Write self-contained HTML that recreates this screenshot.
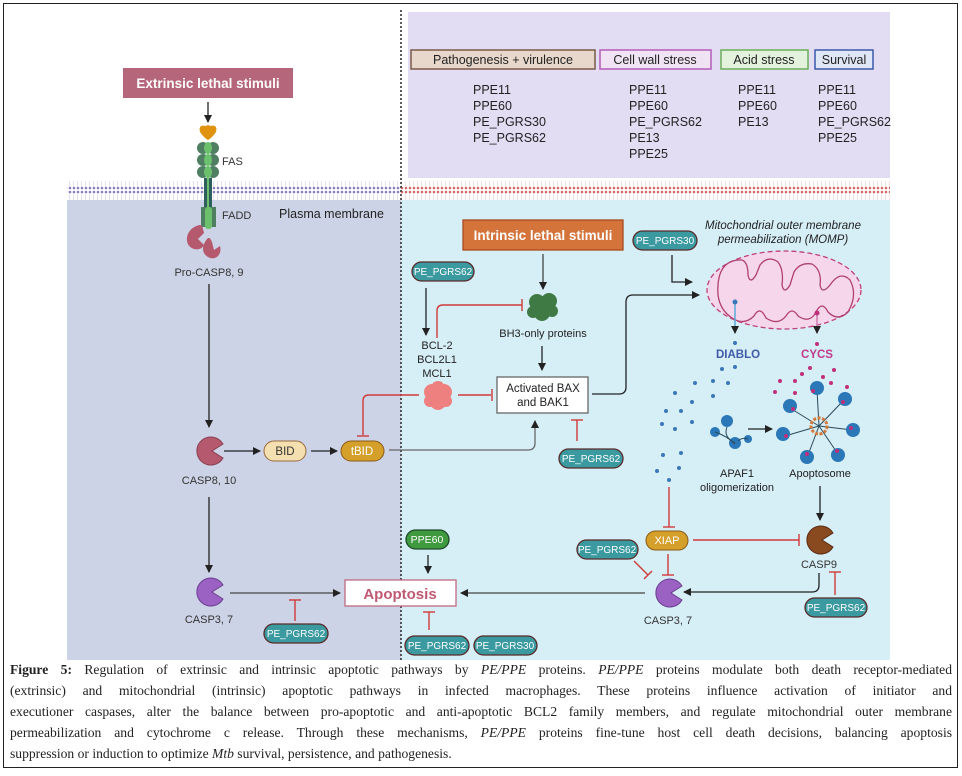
<!DOCTYPE html>
<html><head><meta charset="utf-8"><style>
body{margin:0;background:#fff;width:962px;height:776px;overflow:hidden;position:relative;font-family:"Liberation Sans",sans-serif}
.frame{position:absolute;left:3px;top:3px;width:953px;height:763px;border:1.5px solid #222}
.cap{position:absolute;left:10px;top:659px;width:942px;font-family:"Liberation Serif",serif;font-size:13.6px;color:#222;line-height:21px}
.cap div{text-align:justify;text-align-last:justify;white-space:nowrap}
.cap div.last{text-align-last:left}
</style></head><body>
<div class="frame"></div>
<svg width="962" height="660" style="position:absolute;left:0;top:0" font-family="Liberation Sans, sans-serif">
<defs>
<marker id="ah" markerWidth="8" markerHeight="8" refX="7" refY="4" orient="auto" markerUnits="userSpaceOnUse"><path d="M0,0 L8,4 L0,8 Z" fill="#222"/></marker>
<pattern id="memL" width="4" height="19" patternUnits="userSpaceOnUse"><rect width="4" height="19" fill="#fff"/><circle cx="2" cy="2" r="1.3" fill="#8a7ec0"/><circle cx="2" cy="17" r="1.3" fill="#8a7ec0"/><line x1="1.5" y1="3" x2="1.5" y2="16" stroke="#d8d4ea" stroke-width="0.7"/></pattern>
<pattern id="memR" width="4" height="19" patternUnits="userSpaceOnUse"><rect width="4" height="19" fill="#fff"/><circle cx="2" cy="2" r="1.3" fill="#d46a6a"/><circle cx="2" cy="17" r="1.3" fill="#d46a6a"/><line x1="1.5" y1="3" x2="1.5" y2="16" stroke="#f0d4d4" stroke-width="0.7"/></pattern>
</defs>
<rect x="408" y="12" width="482" height="166" fill="#e2ddf3"/>
<rect x="67" y="200" width="334" height="460" fill="#cdd3e6"/>
<rect x="401" y="200" width="489" height="460" fill="#d6eef6"/>
<rect x="67" y="181" width="334" height="19" fill="url(#memL)"/>
<rect x="401" y="181" width="489" height="19" fill="url(#memR)"/>
<line x1="401" y1="10" x2="401" y2="660" stroke="#333" stroke-width="1.6" stroke-dasharray="2,2"/>

<g font-size="12.5" fill="#222">
<rect x="411" y="50" width="184" height="19" fill="#e8d8cb" stroke="#7a5a48" stroke-width="1.5"/><text x="503" y="64" text-anchor="middle">Pathogenesis + virulence</text>
<rect x="600" y="50" width="111" height="19" fill="#f0e4f4" stroke="#b45cb8" stroke-width="1.5"/><text x="655" y="64" text-anchor="middle">Cell wall stress</text>
<rect x="721" y="50" width="87" height="19" fill="#e2f2dc" stroke="#6aae5a" stroke-width="1.5"/><text x="764" y="64" text-anchor="middle">Acid stress</text>
<rect x="815" y="50" width="58" height="19" fill="#dfe6f6" stroke="#3a5aa8" stroke-width="1.5"/><text x="844" y="64" text-anchor="middle">Survival</text>
<text x="473" y="94">PPE11</text><text x="473" y="110">PPE60</text><text x="473" y="126">PE_PGRS30</text><text x="473" y="142">PE_PGRS62</text>
<text x="629" y="94">PPE11</text><text x="629" y="110">PPE60</text><text x="629" y="126">PE_PGRS62</text><text x="629" y="142">PE13</text><text x="629" y="158">PPE25</text>
<text x="738" y="94">PPE11</text><text x="738" y="110">PPE60</text><text x="738" y="126">PE13</text>
<text x="818" y="94">PPE11</text><text x="818" y="110">PPE60</text><text x="818" y="126">PE_PGRS62</text><text x="818" y="142">PPE25</text>
</g>

<rect x="123" y="68" width="170" height="30" fill="#b5667a"/>
<text x="208" y="88" text-anchor="middle" fill="#fff" font-weight="bold" font-size="13.5">Extrinsic lethal stimuli</text>
<line x1="208" y1="102" x2="208" y2="122" stroke="#222" stroke-width="1.3" marker-end="url(#ah)"/>
<path d="M200,132 q-2,-8 6,-6 q2,-2 4,0 q8,-2 6,6 q-4,6 -8,8 q-4,-2 -8,-8Z" fill="#e0930f"/>
<g fill="#4f7f63"><circle cx="203" cy="148" r="6"/><circle cx="213" cy="148" r="6"/><circle cx="203" cy="160" r="6"/><circle cx="213" cy="160" r="6"/><circle cx="203" cy="172" r="6"/><circle cx="213" cy="172" r="6"/></g>
<g fill="#6cc06c"><ellipse cx="208" cy="148" rx="4" ry="6"/><ellipse cx="208" cy="160" rx="4" ry="6"/><ellipse cx="208" cy="172" rx="4" ry="6"/></g>
<rect x="204" y="178" width="8" height="30" fill="#2e5f5e"/><line x1="208" y1="178" x2="208" y2="208" stroke="#6cc06c" stroke-width="2"/>
<rect x="201" y="207" width="15" height="20" fill="#4f7f63"/><rect x="205" y="207" width="7" height="22" rx="3" fill="#6cc06c"/>
<text x="222" y="165" font-size="11" fill="#333">FAS</text>
<text x="222" y="219" font-size="11" fill="#333">FADD</text>
<text x="279" y="218" font-size="12.5" fill="#222">Plasma membrane</text>
<path d="M200,225 c-14,2 -18,20 -6,24 c4,1 8,0 10,-4 l-6,-6 l6,-6 c-1,-5 -2,-8 -4,-8Z" fill="#b5596e"/>
<path d="M208,238 c-6,6 -8,16 2,20 c8,2 12,-6 10,-12 l-6,4 l-2,-8 c-2,-4 -2,-4 -4,-4Z" fill="#b5596e"/>
<text x="209" y="276" text-anchor="middle" font-size="11" fill="#333">Pro-CASP8, 9</text>
<line x1="209" y1="284" x2="209" y2="427" stroke="#222" stroke-width="1.3" marker-end="url(#ah)"/>

<path d="M223,444 A14,14 0 1 0 223,458 L212,451 Z" fill="#b5596e" stroke="#8a3d50" stroke-width="1"/>
<text x="209" y="484" text-anchor="middle" font-size="11" fill="#333">CASP8, 10</text>
<line x1="209" y1="497" x2="209" y2="572" stroke="#222" stroke-width="1.3" marker-end="url(#ah)"/>
<path d="M223,585 A14,14 0 1 0 223,599 L212,592 Z" fill="#9b62c4" stroke="#6a3e90" stroke-width="1"/>
<text x="209" y="623" text-anchor="middle" font-size="11" fill="#333">CASP3, 7</text>
<line x1="230" y1="593" x2="340" y2="593" stroke="#444" stroke-width="1.3" marker-end="url(#ah)"/>

<line x1="224" y1="451" x2="260" y2="451" stroke="#222" stroke-width="1.3" marker-end="url(#ah)"/>
<rect x="264" y="441" width="42" height="20" rx="10" fill="#f3dfb0" stroke="#9a6a3a"/>
<text x="285" y="455" text-anchor="middle" font-size="11.5" fill="#333">BID</text>
<line x1="311" y1="451" x2="337" y2="451" stroke="#222" stroke-width="1.3" marker-end="url(#ah)"/>
<rect x="341" y="441" width="43" height="20" rx="10" fill="#d4a02a" stroke="#8a5a1a"/>
<text x="362" y="455" text-anchor="middle" font-size="11.5" fill="#fff">tBID</text>
<path d="M389,450 L528,450 Q535,450 535,443 L535,421" fill="none" stroke="#666" stroke-width="1.3" marker-end="url(#ah)"/>

<g font-size="10" fill="#fff" text-anchor="middle">
<g fill="#3a9aa0" stroke="#5a2a2a" stroke-width="1.3">
<rect x="412" y="262" width="62" height="19" rx="9.5"/>
<rect x="633" y="231" width="64" height="19" rx="9.5"/>
<rect x="559" y="449" width="64" height="19" rx="9.5"/>
<rect x="577" y="540" width="61" height="19" rx="9.5"/>
<rect x="805" y="598" width="62" height="19" rx="9.5"/>
<rect x="264" y="624" width="64" height="19" rx="9.5"/>
<rect x="405" y="636" width="64" height="19" rx="9.5"/>
<rect x="474" y="636" width="63" height="19" rx="9.5"/>
</g>
<text x="443" y="275">PE_PGRS62</text>
<text x="665" y="244">PE_PGRS30</text>
<text x="591" y="462">PE_PGRS62</text>
<text x="607" y="553">PE_PGRS62</text>
<text x="836" y="611">PE_PGRS62</text>
<text x="296" y="637">PE_PGRS62</text>
<text x="437" y="649">PE_PGRS62</text>
<text x="505" y="649">PE_PGRS30</text>
</g>
<rect x="406" y="530" width="43" height="19" rx="9.5" fill="#3f9a3f" stroke="#1f4a2a" stroke-width="1.3"/>
<text x="427" y="543" text-anchor="middle" font-size="10.5" fill="#fff">PPE60</text>
<line x1="428" y1="555" x2="428" y2="573" stroke="#222" stroke-width="1.3" marker-end="url(#ah)"/>

<rect x="345" y="580" width="111" height="26" fill="#fff" stroke="#c06a80" stroke-width="1.3"/>
<text x="400" y="599" text-anchor="middle" font-size="15" font-weight="bold" fill="#c05a72">Apoptosis</text>
<g stroke="#d03a3a" stroke-width="1.4" fill="none">
<line x1="295" y1="621" x2="295" y2="600"/><line x1="289" y1="600" x2="301" y2="600"/>
<line x1="429" y1="630" x2="429" y2="612"/><line x1="423" y1="612" x2="435" y2="612"/>
</g>

<rect x="463" y="220" width="160" height="30" fill="#d4733a" stroke="#a84a20" stroke-width="1.3"/>
<text x="543" y="240" text-anchor="middle" fill="#fff" font-weight="bold" font-size="13.5">Intrinsic lethal stimuli</text>
<line x1="543" y1="254" x2="543" y2="289" stroke="#444" stroke-width="1.3" marker-end="url(#ah)"/>
<g fill="#3f7a45"><circle cx="537" cy="302" r="8"/><circle cx="549" cy="301" r="8"/><circle cx="542" cy="313" r="8"/><circle cx="552" cy="311" r="6"/><circle cx="533" cy="312" r="6"/><circle cx="543" cy="305" r="8"/></g>
<text x="543" y="337" text-anchor="middle" font-size="11" fill="#222">BH3-only proteins</text>
<line x1="542" y1="346" x2="542" y2="370" stroke="#222" stroke-width="1.3" marker-end="url(#ah)"/>
<rect x="497" y="377" width="91" height="36" fill="#fff" stroke="#666" stroke-width="1.3"/>
<text x="543" y="392" text-anchor="middle" font-size="11.5" fill="#222">Activated BAX</text>
<text x="543" y="406" text-anchor="middle" font-size="11.5" fill="#222">and BAK1</text>
<path d="M592,394 L619,394 Q626,394 626,387 L626,302 Q626,295 633,295 L699,295" fill="none" stroke="#222" stroke-width="1.3" marker-end="url(#ah)"/>
<path d="M672,255 L672,282 L692,282" fill="none" stroke="#222" stroke-width="1.3" marker-end="url(#ah)"/>
<line x1="426" y1="288" x2="426" y2="335" stroke="#222" stroke-width="1.3" marker-end="url(#ah)"/>
<g font-size="11" fill="#222" text-anchor="middle"><text x="437" y="349">BCL-2</text><text x="437" y="363">BCL2L1</text><text x="437" y="377">MCL1</text></g>
<g fill="#ee8080"><circle cx="432" cy="392" r="8"/><circle cx="444" cy="392" r="8"/><circle cx="438" cy="402" r="8"/><circle cx="438" cy="388" r="7"/><circle cx="430" cy="401" r="6"/><circle cx="446" cy="401" r="6"/></g>
<g stroke="#d03a3a" stroke-width="1.4" fill="none">
<path d="M437,338 L437,311 Q437,305 443,305 L522,305"/><line x1="522" y1="299" x2="522" y2="311"/>
<path d="M419,395 L369,395 Q363,395 363,401 L363,435"/><line x1="357" y1="436" x2="369" y2="436"/>
<line x1="458" y1="395" x2="491" y2="395"/><line x1="492" y1="389" x2="492" y2="401"/>
<line x1="577" y1="441" x2="577" y2="420"/><line x1="571" y1="420" x2="583" y2="420"/>
<line x1="669" y1="487" x2="669" y2="527"/><line x1="663" y1="527" x2="675" y2="527"/>
<line x1="693" y1="540" x2="799" y2="540"/><line x1="799" y1="534" x2="799" y2="546"/>
<line x1="668" y1="554" x2="668" y2="575"/><line x1="662" y1="575" x2="674" y2="575"/>
<line x1="634" y1="561" x2="648" y2="575"/><line x1="644" y1="579" x2="652" y2="571"/>
<line x1="835" y1="595" x2="835" y2="572"/><line x1="829" y1="572" x2="841" y2="572"/>
</g>

<g font-size="11.5" font-style="italic" fill="#222" text-anchor="middle"><text x="783" y="229">Mitochondrial outer membrane</text><text x="783" y="243">permeabilization (MOMP)</text></g>
<ellipse cx="784" cy="290" rx="77" ry="39" fill="#f6d6ea" stroke="#c0407a" stroke-width="1.3" stroke-dasharray="5,3"/>
<path d="M718,295 Q716,262 738,260 L742,260 Q748,262 748,275 Q750,285 756,275 L760,265 Q768,255 778,262 Q784,270 782,285 Q784,295 790,285 L794,272 Q800,262 812,264 Q822,270 820,285 Q822,295 830,285 Q840,270 850,280 Q858,295 848,312 Q838,322 828,312 Q822,300 816,312 Q810,324 798,316 Q792,306 786,316 Q778,326 766,318 Q760,305 754,316 Q744,326 732,318 Q720,310 718,295Z" fill="none" stroke="#b04070" stroke-width="1.3"/>
<line x1="735" y1="303" x2="735" y2="333" stroke="#5aa8d8" stroke-width="1.5" marker-end="url(#ah)"/>
<line x1="817" y1="313" x2="817" y2="333" stroke="#d07ab0" stroke-width="1.5" marker-end="url(#ah)"/>
<circle cx="735" cy="302" r="2.5" fill="#3a78b8"/><circle cx="817" cy="313" r="2.5" fill="#c0307a"/>
<text x="738" y="358" text-anchor="middle" font-weight="bold" font-size="11.5" fill="#3f5aa8">DIABLO</text>
<text x="817" y="358" text-anchor="middle" font-weight="bold" font-size="11.5" fill="#c03a8a">CYCS</text>
<g fill="#3a78b8">
<circle cx="735" cy="343" r="2"/><circle cx="722" cy="369" r="2"/><circle cx="735" cy="367" r="2"/><circle cx="695" cy="383" r="2"/><circle cx="713" cy="381" r="2"/><circle cx="728" cy="383" r="2"/><circle cx="675" cy="393" r="2"/><circle cx="692" cy="402" r="2"/><circle cx="713" cy="396" r="2"/><circle cx="666" cy="411" r="2"/><circle cx="681" cy="411" r="2"/><circle cx="692" cy="422" r="2"/><circle cx="662" cy="424" r="2"/><circle cx="675" cy="429" r="2"/><circle cx="663" cy="455" r="2"/><circle cx="681" cy="453" r="2"/><circle cx="657" cy="471" r="2"/><circle cx="679" cy="468" r="2"/><circle cx="669" cy="480" r="2"/>
</g>
<g fill="#c0307a"><circle cx="817" cy="344" r="2"/><circle cx="802" cy="374" r="2"/><circle cx="810" cy="368" r="2"/><circle cx="823" cy="377" r="2"/><circle cx="834" cy="370" r="2"/><circle cx="780" cy="381" r="2"/><circle cx="795" cy="381" r="2"/><circle cx="831" cy="383" r="2"/><circle cx="847" cy="387" r="2"/><circle cx="775" cy="392" r="2"/><circle cx="795" cy="393" r="2"/></g>
<g fill="#2a78b8"><circle cx="727" cy="421" r="6"/><circle cx="715" cy="432" r="5"/><circle cx="735" cy="443" r="6"/><circle cx="748" cy="439" r="4"/></g>
<path d="M727,427 q-4,10 8,16 M715,432 q12,4 20,12 M748,439 q-6,-2 -10,2" fill="none" stroke="#2a4a5a" stroke-width="1"/>
<line x1="748" y1="429" x2="772" y2="429" stroke="#222" stroke-width="1.3" marker-end="url(#ah)"/>
<text x="737" y="477" text-anchor="middle" font-size="11" fill="#222">APAF1</text>
<text x="737" y="491" text-anchor="middle" font-size="11" fill="#222">oligomerization</text>
<g stroke="#2a4a5a" stroke-width="1" fill="none">
<line x1="819" y1="426" x2="790" y2="408"/><line x1="819" y1="426" x2="817" y2="390"/><line x1="819" y1="426" x2="843" y2="401"/><line x1="819" y1="426" x2="852" y2="430"/><line x1="819" y1="426" x2="838" y2="454"/><line x1="819" y1="426" x2="808" y2="455"/><line x1="819" y1="426" x2="785" y2="436"/>
</g>
<g fill="#2a78b8"><circle cx="790" cy="406" r="7"/><circle cx="817" cy="388" r="7"/><circle cx="845" cy="399" r="7"/><circle cx="853" cy="430" r="7"/><circle cx="838" cy="455" r="7"/><circle cx="807" cy="457" r="7"/><circle cx="783" cy="434" r="7"/></g>
<g fill="#c0307a"><circle cx="793" cy="409" r="2"/><circle cx="813" cy="391" r="2"/><circle cx="843" cy="402" r="2"/><circle cx="851" cy="428" r="2"/><circle cx="837" cy="451" r="2"/><circle cx="807" cy="454" r="2"/><circle cx="786" cy="436" r="2"/></g>
<circle cx="819" cy="426" r="8" fill="none" stroke="#d47a3a" stroke-width="3" stroke-dasharray="3,1.5"/>
<text x="820" y="477" text-anchor="middle" font-size="11" fill="#222">Apoptosome</text>
<line x1="820" y1="486" x2="820" y2="520" stroke="#222" stroke-width="1.3" marker-end="url(#ah)"/>
<path d="M833,533 A14,14 0 1 0 833,547 L822,540 Z" fill="#8a4a1f" stroke="#5a2a10"/>
<text x="819" y="568" text-anchor="middle" font-size="11" fill="#333">CASP9</text>
<rect x="646" y="531" width="42" height="19" rx="9.5" fill="#d4a02a" stroke="#8a5a1a"/>
<text x="667" y="544" text-anchor="middle" font-size="11" fill="#fff">XIAP</text>
<path d="M819,573 L819,585 Q819,592 812,592 L684,592" fill="none" stroke="#222" stroke-width="1.3" marker-end="url(#ah)"/>
<path d="M682,586 A14,14 0 1 0 682,600 L671,593 Z" fill="#9b62c4" stroke="#6a3e90"/>
<text x="668" y="624" text-anchor="middle" font-size="11" fill="#333">CASP3, 7</text>
<line x1="645" y1="593" x2="461" y2="593" stroke="#444" stroke-width="1.3" marker-end="url(#ah)"/>
</svg>
<div class="cap">
<div><b>Figure 5:</b> Regulation of extrinsic and intrinsic apoptotic pathways by <i>PE/PPE</i> proteins. <i>PE/PPE</i> proteins modulate both death receptor-mediated</div>
<div>(extrinsic) and mitochondrial (intrinsic) apoptotic pathways in infected macrophages. These proteins influence activation of initiator and</div>
<div>executioner caspases, alter the balance between pro-apoptotic and anti-apoptotic BCL2 family members, and regulate mitochondrial outer membrane</div>
<div>permeabilization and cytochrome c release. Through these mechanisms, <i>PE/PPE</i> proteins fine-tune host cell death decisions, balancing apoptosis</div>
<div class="last">suppression or induction to optimize <i>Mtb</i> survival, persistence, and pathogenesis.</div>
</div>
</body></html>
